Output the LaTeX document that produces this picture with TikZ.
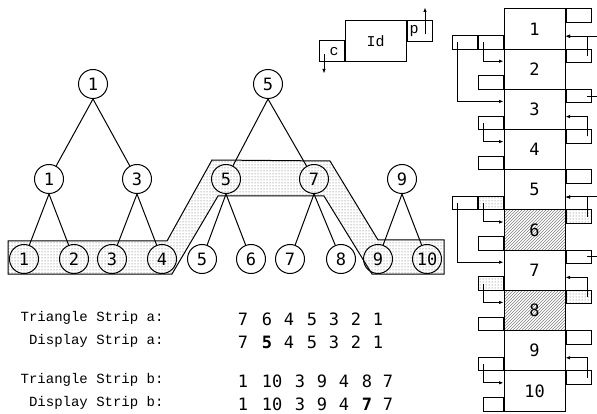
\documentclass[tikz,border=0pt]{standalone}
\usepackage{fontspec}
\setmainfont{DejaVu Sans}
\setmonofont{Liberation Mono}
\newfontfamily\digitfont{DejaVu Sans Mono}
\usetikzlibrary{arrows.meta,patterns}

\begin{document}
\begin{tikzpicture}[x=1pt,y=-1pt,>={Latex[length=4.5pt,width=3.5pt]},line width=1pt,
 vert/.style={circle,draw,minimum size=29pt,inner sep=0pt,font=\digitfont\fontsize{17}{17}\selectfont},
 cell/.style={draw,minimum width=61pt,minimum height=40.2pt,inner sep=0pt,font=\digitfont\fontsize{17}{17}\selectfont},
 tab/.style={draw,minimum height=13.5pt,inner sep=0pt},
 keytab/.style={draw,minimum width=25pt,minimum height=21pt,inner sep=0pt},
 plain/.style={},
 stipple/.style={pattern=dots,pattern color=black!65},
 hatch/.style={pattern=north east lines,pattern color=black!50},
 ptr/.style={->},
 lbl/.style={font=\ttfamily\fontsize{14}{14}\selectfont,anchor=east,inner sep=0pt},
 num/.style={font=\digitfont\fontsize{17}{17}\selectfont,inner sep=0pt}]
\useasboundingbox (0,0) rectangle (597,414);

% strip band under the leaves
\draw[stipple] (8,241) -- (167,241) -- (212,160) -- (330,161) -- (378,240) -- (444,240)
  -- (444,274) -- (372,274) -- (324,196) -- (218,196) -- (172,274) -- (8,274) -- cycle;

% trees
\node[vert] (t1) at (93,84) {1};
\node[vert] (t5) at (268,84) {5};
\foreach \n/\x in {1/49,3/137,5/226,7/314,9/402}
  \node[vert] (m\n) at (\x,179) {\n};
\foreach \n/\x in {1/24,2/74,3/112,4/162,5/202,6/251,7/290,8/341,9/378,10/427}
  \node[vert] (l\n) at (\x,259) {\n};
\foreach \a/\b in {t1/m1,t1/m3,t5/m5,t5/m7,m1/l1,m1/l2,m3/l3,m3/l4,m5/l5,m5/l6,m7/l7,m7/l8,m9/l9,m9/l10}
  \draw (\a.south) -- (\b);

% record layout key
\node[draw,minimum width=61pt,minimum height=41pt,font=\ttfamily\fontsize{15}{15}\selectfont] (id) at (375.5,41.5) {Id};
\node[keytab,anchor=north west] (pp) at (id.north east) {};
\node[keytab,anchor=south east] (cc) at (id.south west) {};
\node[font=\ttfamily\fontsize{15}{15}\selectfont] (plbl) at ([xshift=-5.5pt]pp.center) {p};
\node[font=\ttfamily\fontsize{15}{15}\selectfont] (clbl) at ([xshift=2.5pt]cc.center) {c};
\draw[ptr] ([xshift=5.5pt,yshift=-3pt]pp.center) -- ++(0,-27);
\draw[ptr] ([xshift=-7.5pt,yshift=-3pt]cc.center) -- ++(0,19);

% node array
\foreach \i/\cst/\lst/\rst/\lw in {1/plain/plain/plain/25,2/plain/plain/plain/25,3/plain/plain/plain/25,
    4/plain/plain/plain/25,5/plain/stipple/plain/25,6/hatch/plain/stipple/25,7/plain/stipple/plain/25,
    8/hatch/plain/stipple/25,9/plain/plain/plain/25,10/plain/plain/plain/20} {
  \node[cell,\cst] (b\i) at (534.5,{29.1+40.2*(\i-1)}) {\i};
  \node[tab,\rst,minimum width=25pt,anchor=north west] (rt\i) at (b\i.north east) {};
  \node[tab,\lst,minimum width=\lw pt,anchor=south east] (lt\i) at (b\i.south west) {};
}
\node[tab,minimum width=25pt,anchor=east] (lo1) at (lt1.west) {};
\node[tab,minimum width=25pt,anchor=east] (lo5) at (lt5.west) {};

% child links
\foreach \a/\b in {lt1/b2,lo1/b3,lt3/b4,lt5/b6,lo5/b7,lt7/b8,lt9/b10}
  \draw[ptr] ([xshift=-7pt]\a.center) |- ([yshift=-12.5pt]\b.north west);
% parent links
\foreach \a/\b in {rt2/b1,rt4/b3,rt6/b5,rt8/b7,rt10/b9}
  \draw[ptr] ([xshift=8.5pt]\a.center) |- ([yshift=13.5pt]\b.south east);
\foreach \a/\b in {rt3/b1,rt7/b5}
  \draw[ptr] ([xshift=8.5pt]\a.center) -- ++(10,0) |- ([yshift=13.5pt]\b.south east);

% strip listings
\node[lbl] (tsa) at (164,318) {Triangle Strip a:};
\node[lbl] (dsa) at (164,341) {Display Strip a:};
\node[lbl] (tsb) at (164,380) {Triangle Strip b:};
\node[lbl] (dsb) at (164,403) {Display Strip b:};
\foreach \x/\d [count=\k] in {243/7,267/6,289/4,312/5,334/3,356/2,378/1}
  \node[num] (ta\k) at (\x,319) {\d};
\foreach \x/\d [count=\k] in {243/7,267/\textbf{5},289/4,312/5,334/3,356/2,378/1}
  \node[num] (da\k) at (\x,342) {\d};
\foreach \x/\d [count=\k] in {243/1,272/10,300/3,322/9,344/4,367/8,388/7}
  \node[num] (tb\k) at (\x,381) {\d};
\foreach \x/\d [count=\k] in {243/1,272/10,300/3,322/9,344/4,367/\textbf{7},388/7}
  \node[num] (db\k) at (\x,404) {\d};
\end{tikzpicture}
\end{document}
